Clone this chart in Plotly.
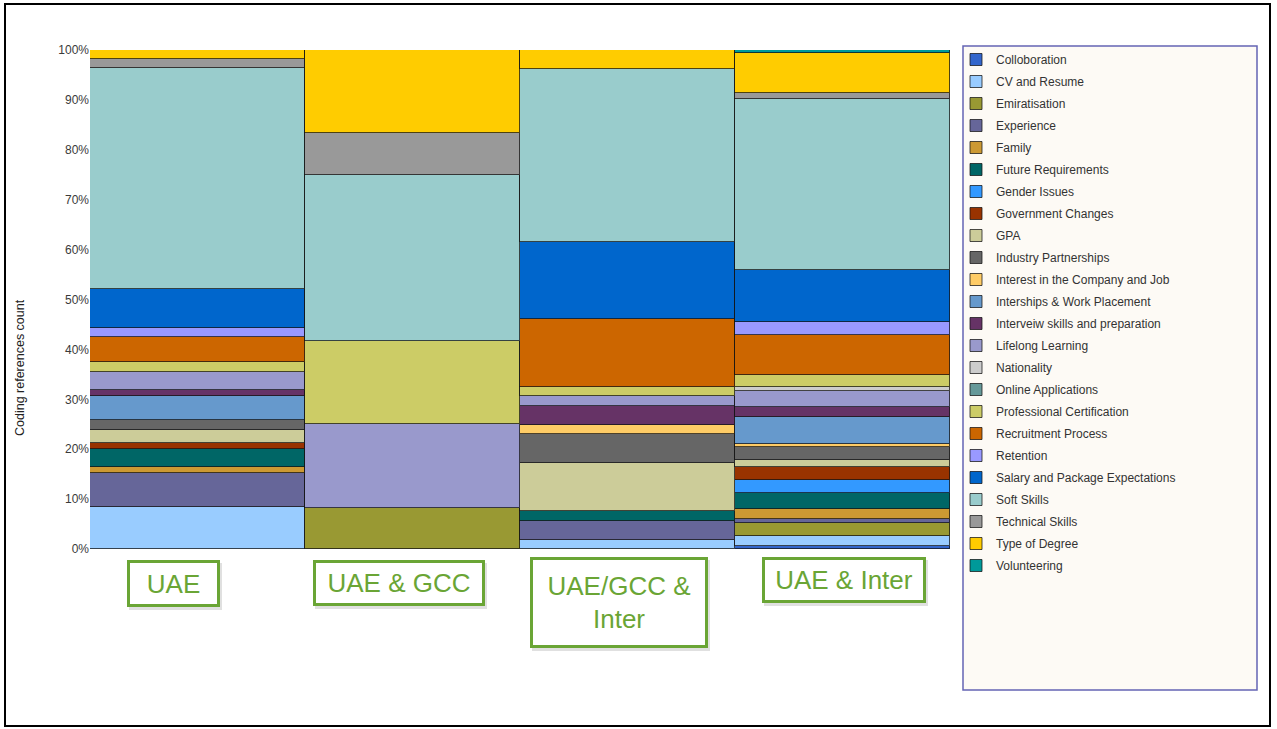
import plotly.graph_objects as go

# Regions shown on the x axis
regions = ["UAE", "UAE & GCC", "UAE/GCC & Inter", "UAE & Inter"]
region_labels = ["UAE", "UAE &amp; GCC", "UAE/GCC &amp;<br>Inter", "UAE &amp; Inter"]

# Coded themes (legend order, stacked bottom to top)
themes = [
    "Colloboration", "CV and Resume", "Emiratisation", "Experience", "Family",
    "Future Requirements", "Gender Issues", "Government Changes", "GPA",
    "Industry Partnerships", "Interest in the Company and Job",
    "Interships & Work Placement", "Interveiw skills and preparation",
    "Lifelong Learning", "Nationality", "Online Applications",
    "Professional Certification", "Recruitment Process", "Retention",
    "Salary and Package Expectations", "Soft Skills", "Technical Skills",
    "Type of Degree", "Volunteering",
]

theme_colors = [
    "#3366CC", "#99CCFF", "#999933", "#666699", "#CC9933",
    "#006666", "#3399FF", "#993300", "#CCCC99",
    "#666666", "#FFCC66",
    "#6699CC", "#663366",
    "#9999CC", "#CCCCCC", "#669999",
    "#CCCC66", "#CC6600", "#9999FF",
    "#0066CC", "#99CCCC", "#999999",
    "#FFCC00", "#009999",
]

# Share of coding references per theme (%), one list per region, in theme order
uae = [0, 8.5, 0, 6.7, 1.2, 3.6, 0, 1.2, 2.6, 2.1, 0, 4.8, 1.2, 3.6, 0, 0,
       2.0, 4.9, 1.8, 7.9, 44.2, 1.9, 1.8, 0]
uae_gcc = [0, 0, 8.3, 0, 0, 0, 0, 0, 0, 0, 0, 0, 0, 16.7, 0, 0,
           16.7, 0, 0, 0, 33.3, 8.3, 16.7, 0]
uae_gcc_inter = [0, 1.9, 0, 3.8, 0, 1.9, 0, 0, 9.6, 5.8, 1.9, 0, 3.8, 1.9, 0, 0,
                 1.9, 13.5, 0, 15.4, 34.6, 0, 3.8, 0]
uae_inter = [0.7, 2.0, 2.6, 0.7, 2.0, 3.3, 2.6, 2.6, 1.3, 2.6, 0.7, 5.3, 2.0, 3.3,
             0.7, 0, 2.6, 7.9, 2.6, 10.5, 34.2, 1.3, 7.9, 0.7]

y_ticks = [0, 10, 20, 30, 40, 50, 60, 70, 80, 90, 100]
y_tick_text = ["0%", "10%", "20%", "30%", "40%", "50%", "60%", "70%", "80%", "90%", "100%"]

# Page geometry (pixels)
W, H = 1277, 729
ML, MR, MT, MB = 90, 327, 50, 180
PW, PH = W - ML - MR, H - MT - MB


def px_x(px):
    return (px - ML) / PW


def px_y(py):
    return (H - MB - py) / PH


series = [uae, uae_gcc, uae_gcc_inter, uae_inter]

fig = go.Figure()
for i, (theme, color) in enumerate(zip(themes, theme_colors)):
    vals = [s[i] if s[i] > 0 else None for s in series]
    fig.add_trace(go.Bar(
        name=theme,
        x=regions,
        y=vals,
        marker=dict(color=color, line=dict(color="rgba(20,20,20,0.75)", width=1)),
        legendgroup=theme,
        showlegend=True,
    ))

font_main = "Liberation Sans, Arial, sans-serif"

fig.update_layout(
    width=W, height=H,
    margin=dict(l=ML, r=MR, t=MT, b=MB),
    barmode="stack",
    barnorm="percent",
    bargap=0,
    paper_bgcolor="white",
    plot_bgcolor="white",
    font=dict(family=font_main, size=12, color="#333333"),
    xaxis=dict(showticklabels=False, showgrid=False, zeroline=False,
               showline=False, ticks=""),
    yaxis=dict(range=[0, 100], tickvals=y_ticks, ticktext=y_tick_text,
               showgrid=False, zeroline=False, showline=False, ticks="",
               tickfont=dict(size=12, color="#3a3a3a")),
    legend=dict(
        x=px_x(956), y=px_y(45), xanchor="left", yanchor="top",
        bgcolor="rgba(0,0,0,0)", borderwidth=0,
        traceorder="grouped", tracegroupgap=3,
        font=dict(family=font_main, size=12, color="#333333"),
        itemwidth=30, maxheight=700,
    ),
)

# Outer frame and legend panel
fig.add_shape(type="rect", xref="paper", yref="paper",
              x0=px_x(5), x1=px_x(1270), y0=px_y(726), y1=px_y(4),
              line=dict(color="black", width=2), fillcolor="rgba(0,0,0,0)",
              layer="below")
fig.add_shape(type="rect", xref="paper", yref="paper",
              x0=px_x(963), x1=px_x(1257), y0=px_y(690), y1=px_y(46),
              line=dict(color="#6464B4", width=1.5), fillcolor="#FDFAF5",
              layer="below")

# Y axis title
fig.add_annotation(text="Coding references count", xref="paper", yref="paper",
                   x=px_x(20), y=px_y(368), showarrow=False, textangle=-90,
                   xanchor="center", yanchor="middle",
                   font=dict(size=12.5, color="#222222"))

# Region labels in green boxes
label_boxes = [
    # (xshift from bar centre, centre y px, width, height)
    (-24, 583.5, 87, 41),
    (-13.5, 583, 166, 40),
    (-8.5, 602.5, 172, 85),
    (1.5, 580, 158, 40),
]
green = "#6AA535"
for reg, lab, (dx, cy, bw, bh) in zip(regions, region_labels, label_boxes):
    # soft shadow under the box
    fig.add_annotation(text="", x=reg, xref="x", yref="paper", y=px_y(cy + 3),
                       xshift=dx + 2, showarrow=False, width=bw, height=bh,
                       xanchor="center", yanchor="middle",
                       bordercolor="rgba(0,0,0,0.12)", borderwidth=3, borderpad=0)
    fig.add_annotation(text=lab, x=reg, xref="x", yref="paper", y=px_y(cy),
                       xshift=dx, showarrow=False, width=bw, height=bh,
                       xanchor="center", yanchor="middle",
                       align="center", valign="middle", bgcolor="white",
                       bordercolor=green, borderwidth=3, borderpad=0,
                       font=dict(family=font_main, size=26, color=green))

fig.write_html("out.html")
